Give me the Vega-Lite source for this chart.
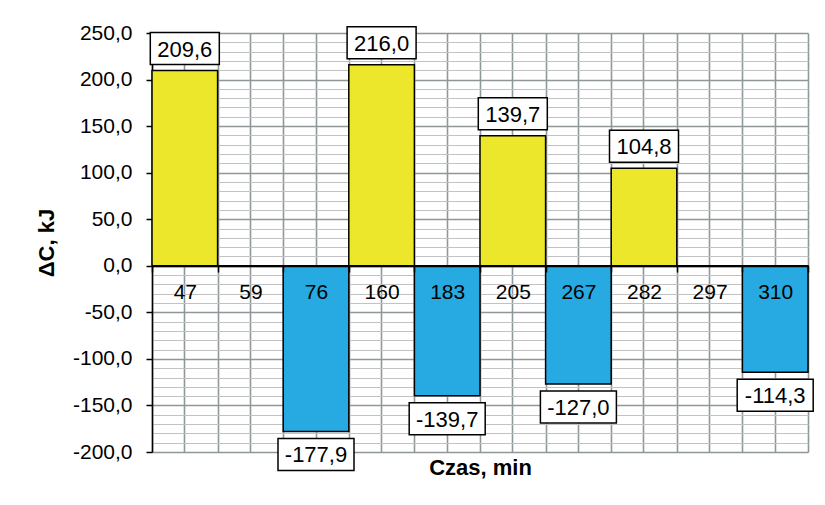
{
  "$schema": "https://vega.github.io/schema/vega-lite/v6.json",
  "autosize": {"type": "none"},
  "width": 656,
  "height": 419,
  "padding": {"left": 152, "top": 33, "right": 17, "bottom": 53},
  "background": "white",
  "config": {
    "locale": {
      "number": {"decimal": ",", "thousands": " ", "grouping": [3], "currency": ["", " zł"], "minus": "-"}
    },
    "font": "Liberation Sans",
    "view": {"stroke": null},
    "axis": {"labelFont": "Liberation Sans", "titleFont": "Liberation Sans", "labelColor": "black", "titleColor": "black"}
  },
  "data": {
    "values": [
      {"t": "47", "dC": 209.6},
      {"t": "59", "dC": 0},
      {"t": "76", "dC": -177.9},
      {"t": "160", "dC": 216.0},
      {"t": "183", "dC": -139.7},
      {"t": "205", "dC": 139.7},
      {"t": "267", "dC": -127.0},
      {"t": "282", "dC": 104.8},
      {"t": "297", "dC": 0},
      {"t": "310", "dC": -114.3}
    ]
  },
  "resolve": {"axis": {"x": "independent", "y": "independent"}},
  "layer": [
    {
      "mark": {"type": "bar", "stroke": "black", "strokeWidth": 1.5},
      "encoding": {
        "x": {
          "field": "t", "type": "nominal", "sort": null,
          "scale": {"domain": ["47", "59", "76", "160", "183", "205", "267", "282", "297", "310"], "paddingInner": 0, "paddingOuter": 0},
          "axis": {
            "orient": "bottom", "grid": true, "tickBand": "extent", "gridColor": "#8f989b", "gridWidth": 1.6,
            "labels": false, "ticks": false, "domain": false, "zindex": 0,
            "title": "Czas, min", "titleFontSize": 22, "titleFontWeight": "bold", "titlePadding": 5
          }
        },
        "y": {
          "field": "dC", "type": "quantitative",
          "scale": {"domain": [-200, 250], "nice": false, "zero": false},
          "axis": {
            "orient": "left",
            "values": [-200, -190, -180, -170, -160, -150, -140, -130, -120, -110, -100, -90, -80, -70, -60, -50, -40, -30, -20, -10, 0, 10, 20, 30, 40, 50, 60, 70, 80, 90, 100, 110, 120, 130, 140, 150, 160, 170, 180, 190, 200, 210, 220, 230, 240, 250],
            "format": ".1f",
            "labelExpr": "datum.value % 50 === 0 ? datum.label : ''",
            "labelOverlap": false,
            "grid": true,
            "gridColor": {"condition": {"test": "datum.value % 50 === 0", "value": "#8f9799"}, "value": "#c2c2c2"},
            "gridWidth": {"condition": {"test": "datum.value % 50 === 0", "value": 1.5}, "value": 1.2},
            "tickOpacity": {"condition": {"test": "datum.value % 50 === 0", "value": 1}, "value": 0},
            "tickSize": 6, "tickColor": "black", "tickWidth": 1.5,
            "domainColor": "black", "domainWidth": 1.5,
            "labelFontSize": 21, "labelPadding": 14,
            "title": "ΔC, kJ", "titleFontSize": 22, "titleFontWeight": "bold", "titlePadding": 14,
            "zindex": 0
          }
        },
        "fill": {"condition": {"test": "datum.dC > 0", "value": "#ece72a"}, "value": "#27aae1"}
      }
    },
    {
      "transform": [{"filter": "datum.dC > 0"}],
      "mark": {"type": "point", "shape": "M-1,-0.464L1,-0.464L1,0.464L-1,0.464Z", "size": 4761, "filled": true, "fill": "white", "stroke": "black", "strokeWidth": 1.5, "opacity": 1, "yOffset": -22},
      "encoding": {
        "x": {
          "field": "t", "type": "nominal", "sort": null,
          "axis": {
            "orient": "top", "grid": true, "bandPosition": 0.5, "gridColor": "#8f989b", "gridWidth": 1.6,
            "labels": false, "ticks": false, "domain": false, "title": null, "zindex": 0
          }
        },
        "y": {"field": "dC", "type": "quantitative", "axis": null}
      }
    },
    {
      "transform": [{"filter": "datum.dC < 0"}],
      "mark": {"type": "point", "shape": "M-1,-0.421L1,-0.421L1,0.421L-1,0.421Z", "size": 5776, "filled": true, "fill": "white", "stroke": "black", "strokeWidth": 1.5, "opacity": 1, "yOffset": 23},
      "encoding": {
        "x": {"field": "t", "type": "nominal", "sort": null, "axis": null},
        "y": {"field": "dC", "type": "quantitative", "axis": null}
      }
    },
    {
      "transform": [{"filter": "datum.dC > 0"}],
      "mark": {"type": "text", "fontSize": 22, "color": "black", "baseline": "middle", "yOffset": -21},
      "encoding": {
        "x": {
          "field": "t", "type": "nominal", "sort": null,
          "axis": {
            "orient": "bottom", "offset": -186, "grid": false,
            "domain": true, "domainColor": "black", "domainWidth": 1.5,
            "ticks": true, "tickBand": "extent", "tickSize": 6, "tickColor": "black", "tickWidth": 1.5,
            "labels": true, "labelAngle": 0, "labelFontSize": 21, "labelPadding": 9,
            "title": null, "zindex": 1
          }
        },
        "y": {"field": "dC", "type": "quantitative", "axis": null},
        "text": {"field": "dC", "type": "quantitative", "format": ".1f"}
      }
    },
    {
      "transform": [{"filter": "datum.dC < 0"}],
      "mark": {"type": "text", "fontSize": 22, "color": "black", "baseline": "middle", "yOffset": 24},
      "encoding": {
        "x": {"field": "t", "type": "nominal", "sort": null, "axis": null},
        "y": {"field": "dC", "type": "quantitative", "axis": null},
        "text": {"field": "dC", "type": "quantitative", "format": ".1f"}
      }
    }
  ]
}
